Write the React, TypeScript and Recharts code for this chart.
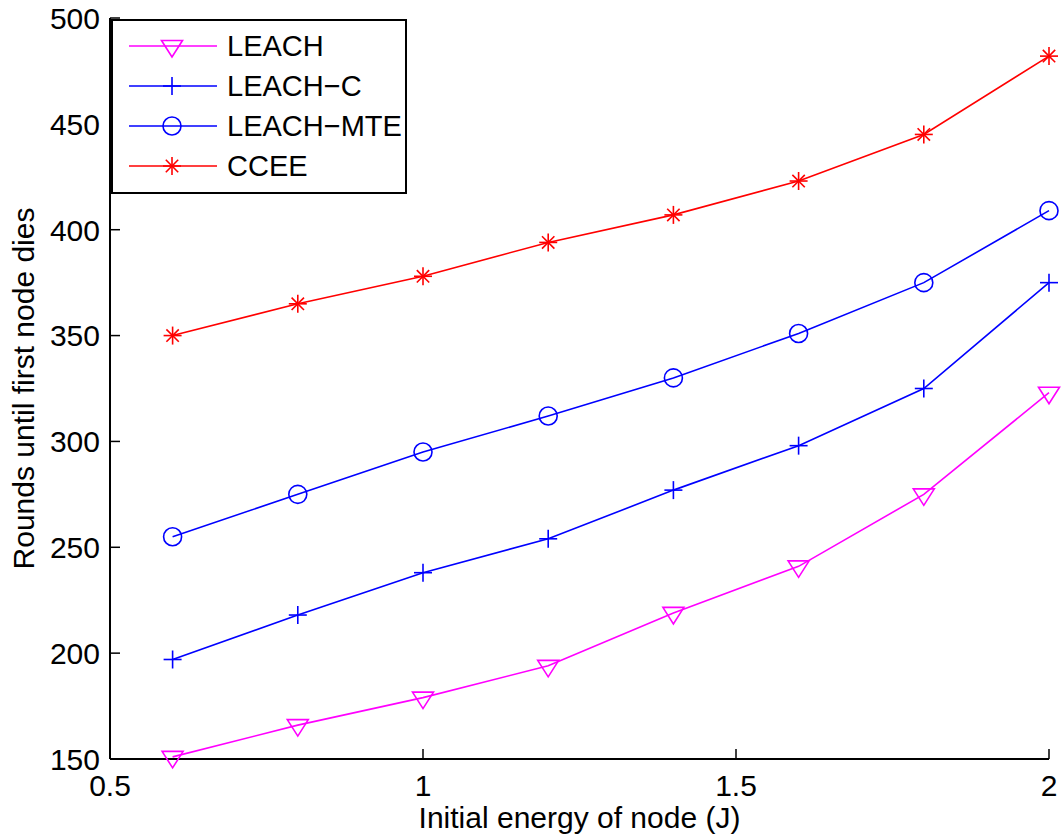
import React from 'react';
import { LineChart, Line, XAxis, YAxis, Legend, Label } from 'recharts';

const energy = [0.6, 0.8, 1.0, 1.2, 1.4, 1.6, 1.8, 2.0];
const leach = [151, 166, 179, 194, 219, 241, 275, 323];
const leachC = [197, 218, 238, 254, 277, 298, 325, 375];
const leachMTE = [255, 275, 295, 312, 330, 351, 375, 409];
const ccee = [350, 365, 378, 394, 407, 423, 445, 482];

const xTicks = [0.5, 1, 1.5, 2];
const yTicks = [150, 200, 250, 300, 350, 400, 450, 500];

const data = energy.map((e, i) => ({
  e,
  leach: leach[i],
  leachC: leachC[i],
  leachMTE: leachMTE[i],
  ccee: ccee[i],
}));

const FONT = '"Liberation Sans", Arial, Helvetica, sans-serif';
const FS = 30;
const SW = 1.6;

type Shape = 'tri' | 'plus' | 'circle' | 'star';

const series: { key: string; name: string; color: string; shape: Shape }[] = [
  { key: 'leach', name: 'LEACH', color: '#ff00ff', shape: 'tri' },
  { key: 'leachC', name: 'LEACH\u2212C', color: '#0000ff', shape: 'plus' },
  { key: 'leachMTE', name: 'LEACH\u2212MTE', color: '#0000ff', shape: 'circle' },
  { key: 'ccee', name: 'CCEE', color: '#ff0000', shape: 'star' },
];

function marker(shape: Shape, cx: number, cy: number, color: string, key?: string) {
  const common = { stroke: color, strokeWidth: SW, fill: 'none' };
  if (shape === 'tri') {
    return (
      <polygon key={key} {...common}
        points={`${cx - 10.5},${cy - 5.5} ${cx + 10.5},${cy - 5.5} ${cx},${cy + 11}`} />
    );
  }
  if (shape === 'plus') {
    return (
      <g key={key} {...common}>
        <line x1={cx - 9} y1={cy} x2={cx + 9} y2={cy} />
        <line x1={cx} y1={cy - 9} x2={cx} y2={cy + 9} />
      </g>
    );
  }
  if (shape === 'circle') {
    return <circle key={key} cx={cx} cy={cy} r={9} {...common} />;
  }
  const d = 6.2;
  return (
    <g key={key} {...common}>
      <line x1={cx - 9} y1={cy} x2={cx + 9} y2={cy} />
      <line x1={cx} y1={cy - 9} x2={cx} y2={cy + 9} />
      <line x1={cx - d} y1={cy - d} x2={cx + d} y2={cy + d} />
      <line x1={cx - d} y1={cy + d} x2={cx + d} y2={cy - d} />
    </g>
  );
}

const LeftTick = (props: any) => {
  const { x, y, payload } = props;
  return (
    <g>
      <line x1={x} y1={y} x2={x + 10} y2={y} stroke="#000" strokeWidth={1.5} />
      <text x={x - 10} y={y} dy="0.36em" textAnchor="end" fontSize={FS} fontFamily={FONT} fill="#000">
        {payload.value}
      </text>
    </g>
  );
};

const RightTick = (props: any) => {
  const { x, y } = props;
  return <line x1={x} y1={y} x2={x - 10} y2={y} stroke="#000" strokeWidth={1.5} />;
};

const BottomTick = (props: any) => {
  const { x, y, payload } = props;
  return (
    <g>
      <line x1={x} y1={y} x2={x} y2={y - 10} stroke="#000" strokeWidth={1.5} />
      <text x={x} y={y + 37} textAnchor="middle" fontSize={FS} fontFamily={FONT} fill="#000">
        {payload.value}
      </text>
    </g>
  );
};

const TopTick = (props: any) => {
  const { x, y } = props;
  return <line x1={x} y1={y} x2={x} y2={y + 10} stroke="#000" strokeWidth={1.5} />;
};

const LegendBox = () => (
  <svg width={296} height={175} style={{ display: 'block' }}>
    <rect x={1} y={1} width={294} height={173} fill="#fff" stroke="#000" strokeWidth={2} />
    {series.map((s, i) => {
      const cy = 27 + i * 40;
      return (
        <g key={s.key}>
          <line x1={18} y1={cy} x2={106} y2={cy} stroke={s.color} strokeWidth={SW} />
          {marker(s.shape, 61, cy, s.color)}
          <text x={116} y={cy} dy="0.36em" fontSize={29} fontFamily={FONT} fill="#000">
            {s.name}
          </text>
        </g>
      );
    })}
  </svg>
);

export default function App() {
  return (
    <div style={{ position: 'absolute', left: 0, top: 0, background: '#fff' }}>
      <LineChart width={1062} height={837} data={data} margin={{ top: 18, right: 13, bottom: 0, left: 0 }}>
        <XAxis
          dataKey="e"
          type="number"
          domain={[0.5, 2]}
          ticks={xTicks}
          height={78}
          tickSize={0}
          tickMargin={0}
          tickLine={false}
          axisLine={{ stroke: '#000', strokeWidth: 2 }}
          tick={BottomTick}
          interval={0}
        >
          <Label
            content={(p: any) => {
              const vb = p.viewBox;
              return (
                <text x={vb.x + vb.width / 2} y={vb.y + 69} textAnchor="middle" fontSize={FS} fontFamily={FONT} fill="#000">
                  Initial energy of node (J)
                </text>
              );
            }}
          />
        </XAxis>
        <XAxis
          xAxisId="top"
          orientation="top"
          type="number"
          domain={[0.5, 2]}
          ticks={xTicks}
          height={0}
          tickSize={0}
          tickMargin={0}
          tickLine={false}
          axisLine={{ stroke: '#000', strokeWidth: 2 }}
          tick={TopTick}
          interval={0}
        />
        <YAxis
          type="number"
          domain={[150, 500]}
          ticks={yTicks}
          width={110}
          tickSize={0}
          tickMargin={0}
          tickLine={false}
          axisLine={{ stroke: '#000', strokeWidth: 2 }}
          tick={LeftTick}
          interval={0}
        >
          <Label
            content={(p: any) => {
              const vb = p.viewBox;
              const cy = vb.y + vb.height / 2;
              return (
                <text x={34} y={cy} transform={`rotate(-90 34 ${cy})`} textAnchor="middle" fontSize={FS} fontFamily={FONT} fill="#000">
                  Rounds until first node dies
                </text>
              );
            }}
          />
        </YAxis>
        <YAxis
          yAxisId="right"
          orientation="right"
          type="number"
          domain={[150, 500]}
          ticks={yTicks}
          width={0}
          tickSize={0}
          tickMargin={0}
          tickLine={false}
          axisLine={{ stroke: '#000', strokeWidth: 2 }}
          tick={RightTick}
          interval={0}
        />
        <Legend
          layout="vertical"
          align="center"
          verticalAlign="middle"
          content={() => <LegendBox />}
          wrapperStyle={{ left: 111, top: 19, width: 296, height: 175 }}
        />
        {series.map((s) => (
          <Line
            key={s.key}
            dataKey={s.key}
            name={s.name}
            type="linear"
            stroke={s.color}
            strokeWidth={SW}
            isAnimationActive={false}
            dot={(p: any) => marker(s.shape, p.cx, p.cy, s.color, `${s.key}-${p.index}`)}
            activeDot={false}
          />
        ))}
      </LineChart>
    </div>
  );
}
